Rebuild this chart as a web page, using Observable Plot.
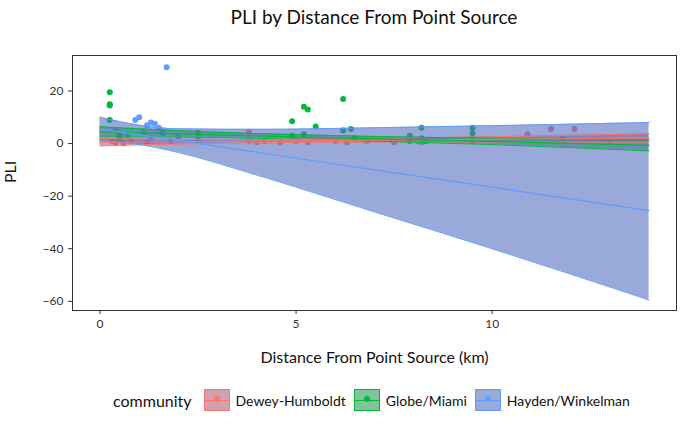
<!DOCTYPE html>
<html><head><meta charset="utf-8">
<script src="https://cdn.jsdelivr.net/npm/d3@7"></script>
<script src="https://cdn.jsdelivr.net/npm/@observablehq/plot@0.6"></script>
<style>
body{margin:0;background:#fff;font-family:Lato,"Noto Sans",sans-serif;width:684px;}
#title{height:40px;line-height:34px;font-size:19px;text-align:center;padding-left:64px;color:#111;}
#legend{display:flex;align-items:center;margin-left:113px;font-size:14px;color:#111;height:40px;}
.key{width:26px;height:22px;margin:0 6px 0 8px;position:relative;box-sizing:border-box;}
</style></head>
<body>
<div id="title">PLI by Distance From Point Source</div>
<div id="chart"></div>
<div id="legend"></div>
<script>
const communities = ["Dewey-Humboldt", "Globe/Miami", "Hayden/Winkelman"];
const colors = ["#F8766D", "#00BA38", "#619CFF"];
const bandFills = ["#b5607a", "#2f9a5a", "#5570c0"];

// observed points [distance km, PLI]
const deweyPts = [[0.3,1],[0.4,0.5],[0.5,1.5],[0.6,0],[0.8,1],[1.2,0.5],[3.8,4.5],[3.8,1],[4.0,0.5],[4.2,1],[4.6,0.5],[5.0,1],[5.3,0.5],[6.0,1],[6.3,0.5],[6.8,1],[7.5,0.5],[8.1,1],[8.2,0.5],[9.5,1],[10.9,3.5],[11.5,5.5],[11.8,2],[12.1,5.5],[13.0,1]];
const globePts = [[0.25,19.5],[0.25,15],[0.25,14.5],[0.25,9],[0.5,3],[0.5,1.5],[1.6,4],[2.5,4],[2.5,1.5],[4.9,8.5],[4.9,3],[5.2,14],[5.3,13],[5.2,3.5],[5.5,6.5],[6.2,17],[6.2,5],[6.4,5.5],[6.5,2],[7.9,3],[7.9,1],[8.2,6],[8.2,2],[8.3,1],[9.5,6],[9.5,4],[9.5,2]];
const haydenPts = [[1.7,29],[0.9,9],[1.0,10],[1.2,7],[1.3,8],[1.4,7.5],[1.5,6],[1.6,4.5],[0.4,5],[0.7,3],[1.1,4],[1.3,2],[2.0,2.5],[1.8,1]];

// fitted line and confidence band: x, fit, lower, upper
const bandX = [0, 1, 2, 4, 7, 10, 14];
const deweyFit = [0.5, 0.6, 0.7, 0.9, 1.3, 1.6, 2.1];
const deweyLo = [-0.9, -0.5, -0.2, 0.3, 0.6, 0.6, 0.5];
const deweyHi = [1.9, 1.7, 1.6, 1.5, 2.0, 2.6, 3.7];
const globeFit = [4.5, 4.1, 3.7, 2.9, 1.8, 0.8, -0.7];
const globeLo = [2.6, 2.6, 2.5, 2.0, 0.9, -0.4, -2.8];
const globeHi = [6.4, 5.6, 4.9, 3.8, 2.7, 2.0, 1.4];
const haydenFit = [5.5, 3.3, 1.1, -3.3, -10, -16.6, -25.5];
const haydenLo = [1, -0.4, -3.4, -12, -26, -40, -59.5];
const haydenHi = [10, 7, 5.6, 5.4, 6, 6.8, 8];

const pts = [deweyPts, globePts, haydenPts].flatMap((p, i) => p.map(([x, y]) => ({x, y, c: communities[i]})));
const fits = [[deweyFit, deweyLo, deweyHi], [globeFit, globeLo, globeHi], [haydenFit, haydenLo, haydenHi]]
  .flatMap(([f, lo, hi], i) => bandX.map((x, j) => ({x, fit: f[j], lo: lo[j], hi: hi[j], c: communities[i], bf: bandFills[i]})));
const color = {domain: communities, range: colors};

const chart = Plot.plot({
  width: 684, height: 340,
  marginLeft: 72, marginRight: 8, marginTop: 15, marginBottom: 70,
  style: {fontFamily: "Lato, 'Noto Sans', sans-serif", fontSize: "12px", color: "#333"},
  color,
  x: {domain: [-0.7, 14.7], ticks: [0, 5, 10], label: null, tickSize: 4},
  y: {domain: [-63.5, 33.5], ticks: [-60, -40, -20, 0, 20], label: null, tickSize: 4},
  marks: [
    Plot.dot(pts, {x: "x", y: "y", fill: "c", r: 3}),
    Plot.areaY(fits, {x: "x", y1: "lo", y2: "hi", z: "c", fill: "bf", fillOpacity: 0.6, curve: "monotone-x"}),
    Plot.line(fits, {x: "x", y: "lo", z: "c", stroke: "c", strokeWidth: 1, curve: "monotone-x"}),
    Plot.line(fits, {x: "x", y: "hi", z: "c", stroke: "c", strokeWidth: 1, curve: "monotone-x"}),
    Plot.line(fits, {x: "x", y: "fit", z: "c", stroke: "c", strokeWidth: 1.2}),
    Plot.frame({stroke: "#333"}),
    Plot.text(["Distance From Point Source (km)"], {frameAnchor: "bottom", dy: 52, fontSize: 16, fill: "#111"}),
    Plot.text(["PLI"], {frameAnchor: "left", dx: -62, rotate: -90, fontSize: 16, fill: "#111"})
  ]
});
d3.select("#chart").append(() => chart);

const leg = d3.select("#legend");
leg.append("span").text("community").style("font-size", "16px").style("margin-right", "4px");
communities.forEach((c, i) => {
  const k = leg.append("div").attr("class", "key").style("border", `1px solid ${colors[i]}`).style("background", bandFills[i] + "99");
  k.append("div").style("position", "absolute").style("left", "0").style("right", "0").style("top", "10px").style("height", "1px").style("background", colors[i]);
  k.append("div").style("position", "absolute").style("left", "9px").style("top", "6px").style("width", "6px").style("height", "6px").style("border-radius", "3px").style("background", colors[i]);
  leg.append("span").text(c);
});
</script>
</body></html>
